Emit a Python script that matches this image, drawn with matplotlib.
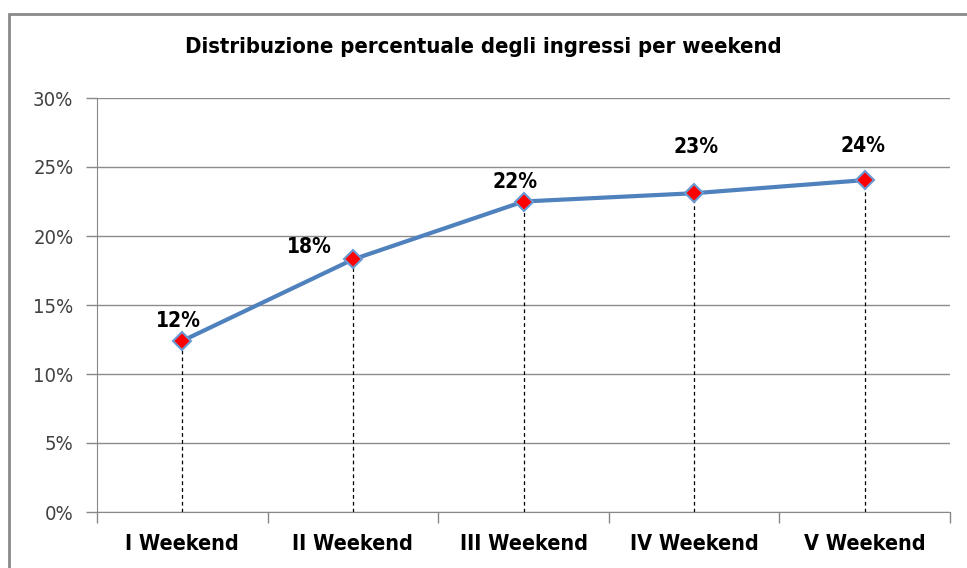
import matplotlib.pyplot as plt
from matplotlib.patches import Rectangle
from matplotlib.ticker import FixedLocator

plt.rcParams["font.family"] = ["Liberation Sans Narrow", "DejaVu Sans"]
plt.rcParams["font.stretch"] = "condensed"

# dati
categorie = ["I Weekend", "II Weekend", "III Weekend", "IV Weekend", "V Weekend"]
valori = [12.4, 18.3, 22.5, 23.1, 24.05]
etichette = ["12%", "18%", "22%", "23%", "24%"]
tick_y = [0, 5, 10, 15, 20, 25, 30]

# posizione delle etichette (offset in pixel rispetto al punto)
offset_etichette = [(-4, 10), (-44, 2), (-8, 9), (2, 36), (-2, 24)]

W, H = 967, 568
fig = plt.figure(figsize=(W / 100, H / 100), dpi=100)
ax = fig.add_axes([97 / W, 1 - 512 / H, (950 - 97) / W, (512 - 98) / H])

x = list(range(len(categorie)))

# linee verticali tratteggiate dai punti all'asse
ax.vlines(x, 0, valori, colors="black", linestyles=(0, (3, 2.5)), linewidth=0.9, zorder=2)

ax.plot(x, valori, color="#4F81BD", linewidth=3, zorder=3,
        marker="D", markersize=9, markerfacecolor="#FF0000",
        markeredgecolor="#6A9AD4", markeredgewidth=1.5)

for xi, v, lab, (dx, dy) in zip(x, valori, etichette, offset_etichette):
    ax.annotate(lab, (xi, v), xytext=(dx * 0.72, dy * 0.72), textcoords="offset points",
                ha="center", va="bottom", fontsize=15, fontweight="bold", color="black")

ax.set_xlim(-0.5, len(categorie) - 0.5)
ax.set_ylim(0, 30)
ax.set_yticks(tick_y)
ax.set_yticklabels([f"{t}%" for t in tick_y], fontsize=14.5, color="#404040")
ax.set_xticks(x)
ax.set_xticklabels(categorie, fontsize=15.5, fontweight="bold")
ax.tick_params(axis="x", which="major", length=0, pad=16)
ax.xaxis.set_minor_locator(FixedLocator([i - 0.5 for i in range(len(categorie) + 1)]))
ax.tick_params(axis="x", which="minor", length=8, color="#888888", width=1)
ax.tick_params(axis="y", length=8, color="#888888", width=1, pad=9)

ax.grid(axis="y", color="#8C8C8C", linewidth=1)
ax.set_axisbelow(True)
for s in ["top", "right"]:
    ax.spines[s].set_visible(False)
ax.spines["left"].set_color("#888888")
ax.spines["bottom"].set_color("#888888")

fig.text(0.5, 1 - 47 / H, "Distribuzione percentuale degli ingressi per weekend",
         ha="center", va="center", fontsize=15.8, fontweight="bold")

# cornice del grafico
fig.patches.append(Rectangle((9 / W, -0.1), 1.1, 1 - 13.5 / H + 0.1, transform=fig.transFigure,
                             fill=False, edgecolor="#8A8A8A", linewidth=2))

fig.savefig("out.png", dpi=100)
